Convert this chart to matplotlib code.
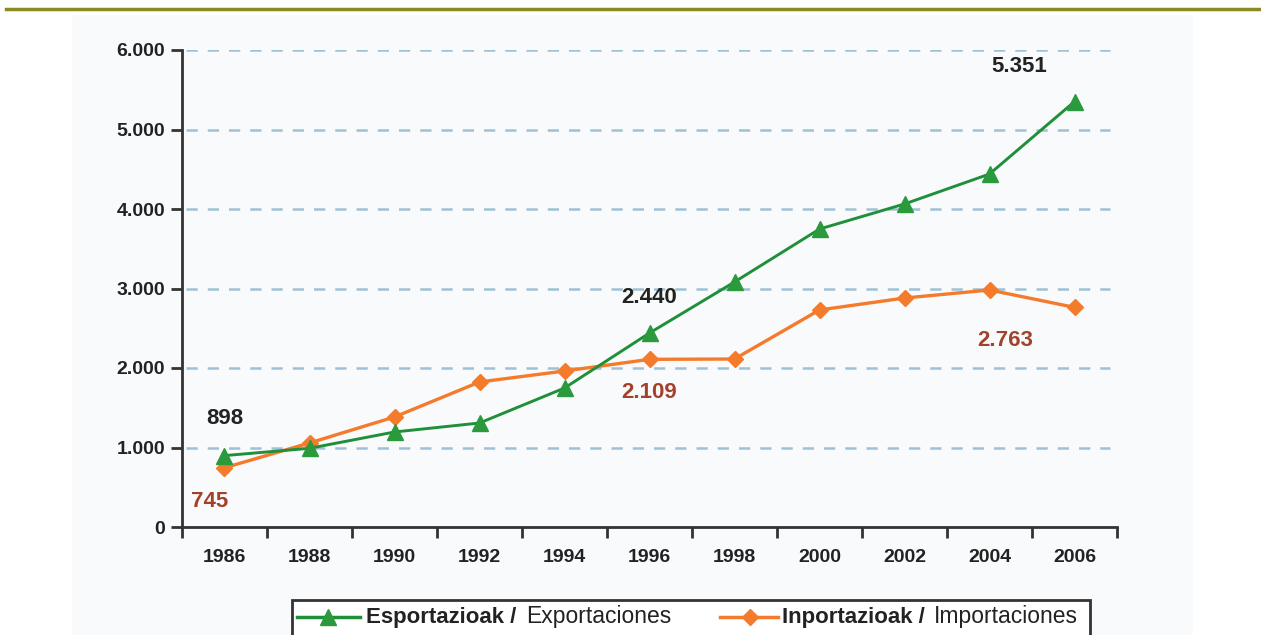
import matplotlib
matplotlib.use("Agg")
import matplotlib.pyplot as plt
from matplotlib.patches import Rectangle
from matplotlib.lines import Line2D

years = ["1986", "1988", "1990", "1992", "1994", "1996", "1998", "2000", "2002", "2004", "2006"]
exports = [898, 990, 1195, 1308, 1748, 2440, 3082, 3748, 4063, 4440, 5351]
imports = [745, 1057, 1384, 1824, 1962, 2109, 2113, 2730, 2880, 2981, 2763]
y_ticks = [0, 1000, 2000, 3000, 4000, 5000, 6000]
y_labels = ["0", "1.000", "2.000", "3.000", "4.000", "5.000", "6.000"]

green = "#1f8f3a"
orange = "#f47b2c"
brown = "#a3412b"
dark = "#222222"

plt.rcParams['font.family'] = ['Liberation Sans', 'DejaVu Sans']

W, H = 1261, 635
fig = plt.figure(figsize=(W / 100, H / 100), dpi=100, facecolor="white")

def fx(px):
    return px / W

def fy(py):
    return 1 - py / H

# background panel and top rule
fig.patches.append(Rectangle((fx(72), fy(635)), fx(1193) - fx(72), fy(15) - fy(635),
                             transform=fig.transFigure, facecolor="#f9fafb", edgecolor="none", zorder=-5))
fig.lines.append(Line2D([fx(6), 1.0], [fy(9), fy(9)], transform=fig.transFigure,
                        color="#8b8a22", linewidth=2.5))

ax = fig.add_axes([fx(182), fy(527), fx(1117) - fx(182), fy(50) - fy(527)])
ax.set_facecolor("none")

x = list(range(len(years)))
ax.plot(x, imports, color=orange, linewidth=2.4, marker="D", markersize=8,
        markerfacecolor=orange, markeredgecolor=orange, zorder=3)
ax.plot(x, exports, color=green, linewidth=2.1, marker="^", markersize=11,
        markerfacecolor="#2a9a3c", markeredgecolor="#2a9a3c", zorder=4)

for t in y_ticks[1:]:
    ax.axhline(t, xmin=0.004, xmax=0.993, color="#9fc1d5", linewidth=1.8,
               dashes=(4.5, 4), zorder=1)

ax.set_xlim(-0.5, len(years) - 0.5)
ax.set_ylim(0, 6000)
ax.set_yticks(y_ticks)
ax.set_yticklabels(y_labels, fontsize=14, fontweight="bold", color=dark)
ax.set_xticks([i - 0.5 for i in range(len(years) + 1)])
ax.set_xticklabels([])
ax.set_xticks(x, minor=True)
ax.set_xticklabels(years, minor=True, fontsize=14, fontweight="bold", color=dark)
ax.tick_params(axis="x", which="major", length=8, width=2, color="#333333", direction="out")
ax.tick_params(axis="x", which="minor", length=0, pad=16)
ax.tick_params(axis="y", length=8, width=2, color="#333333", pad=4)

for s in ["top", "right"]:
    ax.spines[s].set_visible(False)
for s in ["left", "bottom"]:
    ax.spines[s].set_color("#333333")
    ax.spines[s].set_linewidth(2)

# value labels
notes = [
    (0, exports[0], "898", (0, 37), dark),
    (0, imports[0], "745", (-15, -34), brown),
    (5, exports[5], "2.440", (0, 36), dark),
    (5, imports[5], "2.109", (0, -33), brown),
    (10, exports[10], "5.351", (-55, 35), dark),
    (10, imports[10], "2.763", (-69, -33), brown),
]
for xi, yi, txt, off, col in notes:
    ax.annotate(txt, xy=(xi, yi), xytext=off, textcoords="offset pixels",
                ha="center", va="center", fontsize=16, fontweight="bold", color=col)

# legend box
fig.patches.append(Rectangle((fx(292), fy(640)), fx(1090) - fx(292), fy(600) - fy(640),
                             transform=fig.transFigure, facecolor="white",
                             edgecolor="#333333", linewidth=2, zorder=2))
ly = fy(617)
fig.lines.append(Line2D([fx(297), fx(360)], [ly, ly], transform=fig.transFigure,
                        color=green, linewidth=2.5, zorder=3))
fig.lines.append(Line2D([fx(328)], [ly], transform=fig.transFigure, marker="^",
                        markersize=11, color="#2a9a3c", zorder=3))
fig.lines.append(Line2D([fx(720), fx(778)], [ly, ly], transform=fig.transFigure,
                        color=orange, linewidth=2.5, zorder=3))
fig.lines.append(Line2D([fx(750)], [ly], transform=fig.transFigure, marker="D",
                        markersize=8, color=orange, zorder=3))

fig.text(fx(366), ly, "Esportazioak /", fontsize=16, fontweight="bold",
         color=dark, va="center", ha="left", zorder=4)
fig.text(fx(526), ly, "Exportaciones", fontsize=16.5,
         color=dark, va="center", ha="left", zorder=4)
fig.text(fx(782), ly, "Inportazioak /", fontsize=16, fontweight="bold",
         color=dark, va="center", ha="left", zorder=4)
fig.text(fx(934), ly, "Importaciones", fontsize=16.5,
         color=dark, va="center", ha="left", zorder=4)

fig.savefig("out.png", dpi=100, facecolor="white")
